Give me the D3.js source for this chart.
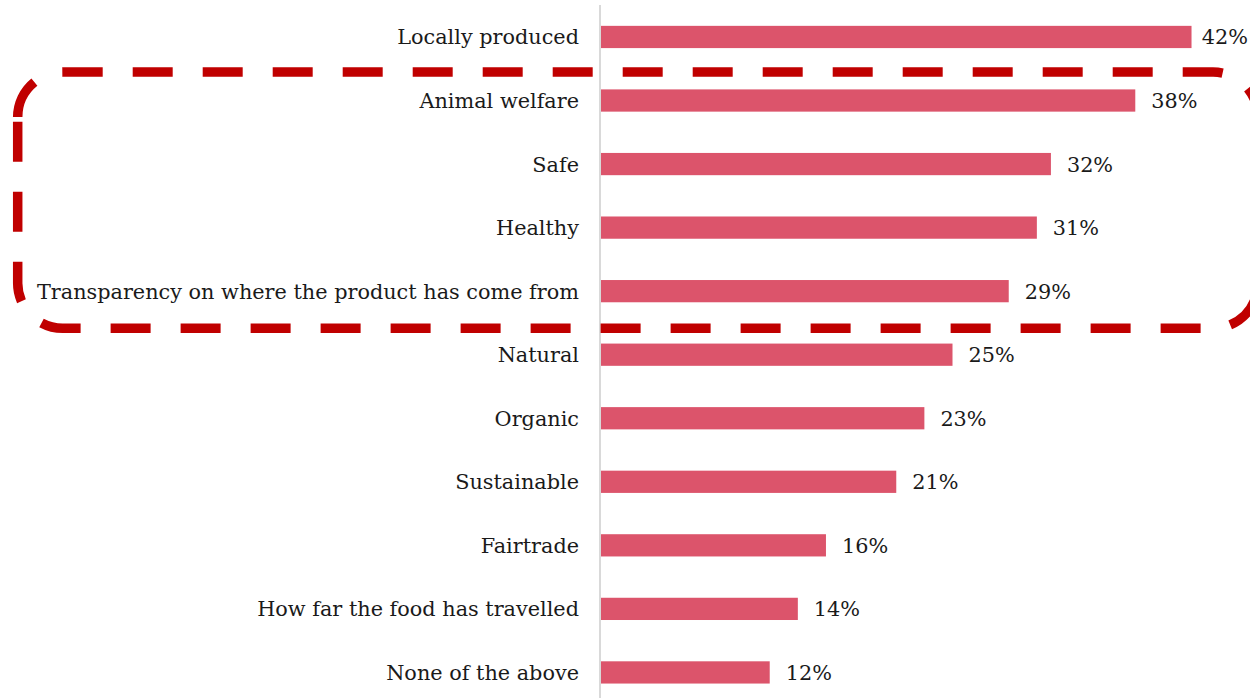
<!DOCTYPE html>
<html>
<head>
<meta charset="utf-8">
<script src="https://cdn.jsdelivr.net/npm/d3@7"></script>
<style>
  html, body { margin: 0; padding: 0; background: #ffffff; }
  svg { display: block; }
</style>
</head>
<body>
<svg id="chart" width="1250" height="698"></svg>
<script>
// Attributes shoppers look for in food, share of respondents (%)
const categories = [
  "Locally produced",
  "Animal welfare",
  "Safe",
  "Healthy",
  "Transparency on where the product has come from",
  "Natural",
  "Organic",
  "Sustainable",
  "Fairtrade",
  "How far the food has travelled",
  "None of the above"
];
const values = [42, 38, 32, 31, 29, 25, 23, 21, 16, 14, 12];
// Rows grouped inside the highlight box
const highlighted = ["Animal welfare", "Safe", "Healthy", "Transparency on where the product has come from"];

const svg = d3.select("#chart");
const W = 1250, H = 698;
const axisX = 600;
const fontFamily = "'DejaVu Serif', Georgia, serif";

const x = d3.scaleLinear().domain([0, 50]).range([601, 601 + 50 * 14.06]);
const y = d3.scaleBand()
  .domain(categories)
  .range([5.2, 704.2])
  .paddingInner(0.65)
  .paddingOuter(0.325);

const rows = categories.map((c, i) => ({ label: c, value: values[i] }));

// Bars
svg.append("g")
  .selectAll("rect")
  .data(rows)
  .join("rect")
  .attr("x", x(0))
  .attr("y", d => y(d.label))
  .attr("width", d => x(d.value) - x(0))
  .attr("height", y.bandwidth())
  .attr("fill", "#dc546b");

// Vertical category axis line
svg.append("line")
  .attr("x1", axisX).attr("x2", axisX)
  .attr("y1", 5).attr("y2", H)
  .attr("stroke", "#d9d9d9")
  .attr("stroke-width", 2);

// Category labels
svg.append("g")
  .selectAll("text")
  .data(rows)
  .join("text")
  .attr("x", axisX - 21)
  .attr("y", d => y(d.label) + y.bandwidth() / 2)
  .attr("dy", "0.36em")
  .attr("text-anchor", "end")
  .attr("font-family", fontFamily)
  .attr("font-size", 20.8)
  .attr("fill", "#1a1a1a")
  .text(d => d.label);

// Value labels, kept inside the right edge
svg.append("g")
  .selectAll("text")
  .data(rows)
  .join("text")
  .attr("y", d => y(d.label) + y.bandwidth() / 2)
  .attr("dy", "0.36em")
  .attr("font-family", fontFamily)
  .attr("font-size", 20.8)
  .attr("fill", "#1a1a1a")
  .text(d => d.value + "%")
  .attr("x", function (d) {
    const w = this.getComputedTextLength();
    return Math.min(x(d.value) + 16, W - 2 - w);
  });

// Dashed rounded box around the highlighted rows
const first = highlighted[0], last = highlighted[highlighted.length - 1];
const T = y(first) - 17.3;
const B = y(last) + y.bandwidth() + 26;
const L = 17.7, R = 1258, r = 45;

// Clockwise outline from the top-left corner's end to the top of the left side
const outline = d3.path();
outline.moveTo(L + r, T);
outline.lineTo(R - r, T);
outline.arcTo(R, T, R, T + r, r);
outline.lineTo(R, B - r);
outline.arcTo(R, B, R - r, B, r);
outline.lineTo(L + r, B);
outline.arcTo(L, B, L, B - r, r);
outline.lineTo(L, T + r);

// Top-left corner drawn on its own so its dash begins at the corner
const corner = d3.path();
corner.moveTo(L, T + r);
corner.arcTo(L, T, L + r, T, r);

[outline, corner].forEach(p => {
  svg.append("path")
    .attr("d", p.toString())
    .attr("fill", "none")
    .attr("stroke", "#c00000")
    .attr("stroke-width", 9.5)
    .attr("stroke-dasharray", "40 30");
});
</script>
</body>
</html>
